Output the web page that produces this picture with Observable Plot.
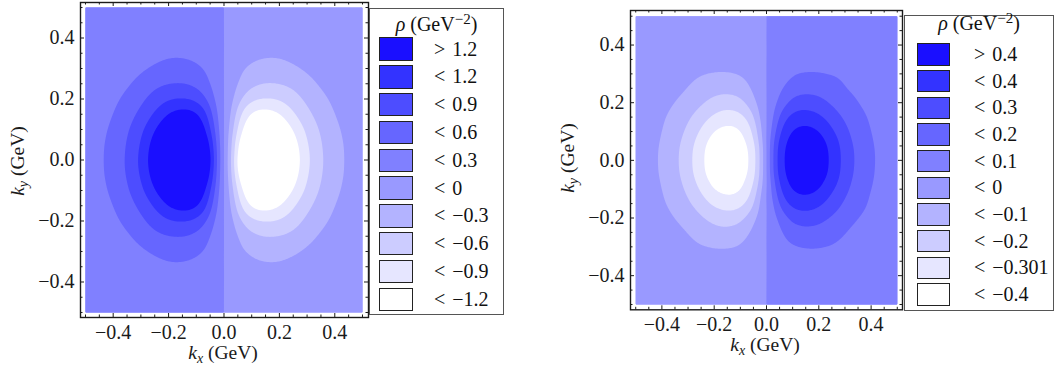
<!DOCTYPE html>
<html><head><meta charset="utf-8">
<script src="https://cdn.jsdelivr.net/npm/d3@7"></script>
<script src="https://cdn.jsdelivr.net/npm/@observablehq/plot@0.6"></script>
<style>
html,body{margin:0;padding:0;background:#fff;overflow:hidden;}
#root{position:relative;width:1054px;height:369px;overflow:hidden;font-family:'Liberation Serif','Times New Roman',Tinos,'DejaVu Serif',serif;color:#111;}
#root svg{position:absolute;top:0;}
.legend{position:absolute;border:1px solid #555;box-sizing:border-box;background:#fff;}
.sw{position:absolute;box-sizing:border-box;border:1.5px solid #222;}
.lab{position:absolute;font-size:20px;line-height:20px;white-space:nowrap;word-spacing:2px;}
.ttl{position:absolute;text-align:center;font-size:20px;line-height:20px;white-space:nowrap;transform:translateX(-50%);}
.ttl sup{font-size:0.75em;line-height:0;vertical-align:0.5em;}
</style></head><body><div id="root"></div>
<script>
// grid coordinates (GeV)
const kxValues = [-0.5,-0.45,-0.4,-0.35,-0.3,-0.25,-0.2,-0.15,-0.1,-0.05,-0.03,-0.01,0.01,0.03,0.05,0.1,0.15,0.2,0.25,0.3,0.35,0.4,0.45,0.5];
const kyValues = [-0.5,-0.45,-0.4,-0.35,-0.3,-0.25,-0.2,-0.15,-0.1,-0.05,0,0.05,0.1,0.15,0.2,0.25,0.3,0.35,0.4,0.45,0.5];

// left panel: rho (GeV^-2), one row per ky value (ascending), columns follow kxValues
const rhoLeft = [
[0.03,0.04,0.05,0.065,0.08,0.09,0.1,0.1,0.09,0.06,0.04,0.015,-0.015,-0.04,-0.06,-0.09,-0.1,-0.1,-0.09,-0.08,-0.065,-0.05,-0.04,-0.03],
[0.04,0.05,0.065,0.085,0.1,0.12,0.13,0.13,0.12,0.08,0.05,0.02,-0.02,-0.05,-0.08,-0.12,-0.13,-0.13,-0.12,-0.1,-0.085,-0.065,-0.05,-0.04],
[0.05,0.065,0.085,0.11,0.14,0.165,0.18,0.18,0.16,0.11,0.07,0.025,-0.025,-0.07,-0.11,-0.16,-0.18,-0.18,-0.165,-0.14,-0.11,-0.085,-0.065,-0.05],
[0.06,0.08,0.11,0.15,0.2,0.245,0.27,0.27,0.24,0.16,0.09,0.03,-0.03,-0.09,-0.16,-0.24,-0.27,-0.27,-0.245,-0.2,-0.15,-0.11,-0.08,-0.06],
[0.07,0.1,0.14,0.19,0.26,0.32,0.37,0.375,0.34,0.23,0.12,0.04,-0.04,-0.12,-0.23,-0.34,-0.375,-0.37,-0.32,-0.26,-0.19,-0.14,-0.1,-0.07],
[0.08,0.12,0.18,0.26,0.39,0.53,0.6,0.61,0.53,0.3,0.15,0.05,-0.05,-0.15,-0.3,-0.53,-0.61,-0.6,-0.53,-0.39,-0.26,-0.18,-0.12,-0.08],
[0.1,0.15,0.24,0.37,0.53,0.74,0.88,0.91,0.83,0.5,0.19,0.05,-0.05,-0.19,-0.5,-0.83,-0.91,-0.88,-0.74,-0.53,-0.37,-0.24,-0.15,-0.1],
[0.12,0.18,0.295,0.475,0.675,0.94,1.25,1.4,1.3,0.8,0.335,0.03,-0.03,-0.335,-0.8,-1.3,-1.4,-1.25,-0.94,-0.675,-0.475,-0.295,-0.18,-0.12],
[0.14,0.21,0.365,0.56,0.825,1.21,1.5,1.62,1.58,1.05,0.47,0.045,-0.045,-0.47,-1.05,-1.58,-1.62,-1.5,-1.21,-0.825,-0.56,-0.365,-0.21,-0.14],
[0.16,0.235,0.41,0.61,0.92,1.39,1.6,1.72,1.7,1.4,0.57,0.08,-0.08,-0.57,-1.4,-1.7,-1.72,-1.6,-1.39,-0.92,-0.61,-0.41,-0.235,-0.16],
[0.17,0.24,0.42,0.63,0.97,1.45,1.65,1.78,1.75,1.6,0.6,0.1,-0.1,-0.6,-1.6,-1.75,-1.78,-1.65,-1.45,-0.97,-0.63,-0.42,-0.24,-0.17],
[0.16,0.235,0.41,0.61,0.92,1.39,1.6,1.72,1.7,1.4,0.57,0.08,-0.08,-0.57,-1.4,-1.7,-1.72,-1.6,-1.39,-0.92,-0.61,-0.41,-0.235,-0.16],
[0.14,0.21,0.365,0.56,0.825,1.21,1.5,1.62,1.58,1.05,0.47,0.045,-0.045,-0.47,-1.05,-1.58,-1.62,-1.5,-1.21,-0.825,-0.56,-0.365,-0.21,-0.14],
[0.12,0.18,0.295,0.475,0.675,0.94,1.25,1.4,1.3,0.8,0.335,0.03,-0.03,-0.335,-0.8,-1.3,-1.4,-1.25,-0.94,-0.675,-0.475,-0.295,-0.18,-0.12],
[0.1,0.15,0.24,0.37,0.53,0.74,0.88,0.91,0.83,0.5,0.19,0.05,-0.05,-0.19,-0.5,-0.83,-0.91,-0.88,-0.74,-0.53,-0.37,-0.24,-0.15,-0.1],
[0.08,0.12,0.18,0.26,0.39,0.53,0.6,0.61,0.53,0.3,0.15,0.05,-0.05,-0.15,-0.3,-0.53,-0.61,-0.6,-0.53,-0.39,-0.26,-0.18,-0.12,-0.08],
[0.07,0.1,0.14,0.19,0.26,0.32,0.37,0.375,0.34,0.23,0.12,0.04,-0.04,-0.12,-0.23,-0.34,-0.375,-0.37,-0.32,-0.26,-0.19,-0.14,-0.1,-0.07],
[0.06,0.08,0.11,0.15,0.2,0.245,0.27,0.27,0.24,0.16,0.09,0.03,-0.03,-0.09,-0.16,-0.24,-0.27,-0.27,-0.245,-0.2,-0.15,-0.11,-0.08,-0.06],
[0.05,0.065,0.085,0.11,0.14,0.165,0.18,0.18,0.16,0.11,0.07,0.025,-0.025,-0.07,-0.11,-0.16,-0.18,-0.18,-0.165,-0.14,-0.11,-0.085,-0.065,-0.05],
[0.04,0.05,0.065,0.085,0.1,0.12,0.13,0.13,0.12,0.08,0.05,0.02,-0.02,-0.05,-0.08,-0.12,-0.13,-0.13,-0.12,-0.1,-0.085,-0.065,-0.05,-0.04],
[0.03,0.04,0.05,0.065,0.08,0.09,0.1,0.1,0.09,0.06,0.04,0.015,-0.015,-0.04,-0.06,-0.09,-0.1,-0.1,-0.09,-0.08,-0.065,-0.05,-0.04,-0.03]
];

// right panel
const rhoRight = [
[-0.012,-0.015,-0.019,-0.024,-0.028,-0.031,-0.032,-0.032,-0.029,-0.019,-0.012,-0.005,0.005,0.012,0.019,0.029,0.032,0.032,0.031,0.028,0.024,0.019,0.015,0.012],
[-0.014,-0.018,-0.024,-0.03,-0.035,-0.039,-0.041,-0.041,-0.037,-0.025,-0.016,-0.006,0.006,0.016,0.025,0.037,0.041,0.041,0.039,0.035,0.03,0.024,0.018,0.014],
[-0.017,-0.022,-0.029,-0.037,-0.045,-0.05,-0.053,-0.053,-0.048,-0.032,-0.02,-0.008,0.008,0.02,0.032,0.048,0.053,0.053,0.05,0.045,0.037,0.029,0.022,0.017],
[-0.02,-0.027,-0.036,-0.047,-0.058,-0.068,-0.073,-0.073,-0.066,-0.043,-0.027,-0.01,0.01,0.027,0.043,0.066,0.073,0.073,0.068,0.058,0.047,0.036,0.027,0.02],
[-0.025,-0.034,-0.047,-0.064,-0.08,-0.093,-0.1,-0.1,-0.092,-0.058,-0.035,-0.012,0.012,0.035,0.058,0.092,0.1,0.1,0.093,0.08,0.064,0.047,0.034,0.025],
[-0.03,-0.04,-0.055,-0.075,-0.098,-0.145,-0.165,-0.17,-0.15,-0.079,-0.045,-0.015,0.015,0.045,0.079,0.15,0.17,0.165,0.145,0.098,0.075,0.055,0.04,0.03],
[-0.035,-0.048,-0.07,-0.1,-0.14,-0.185,-0.235,-0.255,-0.235,-0.125,-0.07,-0.015,0.015,0.07,0.125,0.235,0.255,0.235,0.185,0.14,0.1,0.07,0.048,0.035],
[-0.04,-0.055,-0.088,-0.13,-0.185,-0.255,-0.325,-0.36,-0.345,-0.235,-0.1,-0.01,0.01,0.1,0.235,0.345,0.36,0.325,0.255,0.185,0.13,0.088,0.055,0.04],
[-0.044,-0.062,-0.097,-0.154,-0.22,-0.32,-0.415,-0.44,-0.42,-0.315,-0.17,-0.01,0.01,0.17,0.315,0.42,0.44,0.415,0.32,0.22,0.154,0.097,0.062,0.044],
[-0.048,-0.068,-0.109,-0.171,-0.253,-0.377,-0.46,-0.475,-0.45,-0.37,-0.28,-0.01,0.01,0.28,0.37,0.45,0.475,0.46,0.377,0.253,0.171,0.109,0.068,0.048],
[-0.05,-0.07,-0.1125,-0.176,-0.262,-0.385,-0.47,-0.49,-0.46,-0.38,-0.292,-0.01,0.01,0.292,0.38,0.46,0.49,0.47,0.385,0.262,0.176,0.1125,0.07,0.05],
[-0.048,-0.068,-0.109,-0.171,-0.253,-0.377,-0.46,-0.475,-0.45,-0.37,-0.28,-0.01,0.01,0.28,0.37,0.45,0.475,0.46,0.377,0.253,0.171,0.109,0.068,0.048],
[-0.044,-0.062,-0.097,-0.154,-0.22,-0.32,-0.415,-0.44,-0.42,-0.315,-0.17,-0.01,0.01,0.17,0.315,0.42,0.44,0.415,0.32,0.22,0.154,0.097,0.062,0.044],
[-0.04,-0.055,-0.088,-0.13,-0.185,-0.255,-0.325,-0.36,-0.345,-0.235,-0.1,-0.01,0.01,0.1,0.235,0.345,0.36,0.325,0.255,0.185,0.13,0.088,0.055,0.04],
[-0.035,-0.048,-0.07,-0.1,-0.14,-0.185,-0.235,-0.255,-0.235,-0.125,-0.07,-0.015,0.015,0.07,0.125,0.235,0.255,0.235,0.185,0.14,0.1,0.07,0.048,0.035],
[-0.03,-0.04,-0.055,-0.075,-0.098,-0.145,-0.165,-0.17,-0.15,-0.079,-0.045,-0.015,0.015,0.045,0.079,0.15,0.17,0.165,0.145,0.098,0.075,0.055,0.04,0.03],
[-0.025,-0.034,-0.047,-0.064,-0.08,-0.093,-0.1,-0.1,-0.092,-0.058,-0.035,-0.012,0.012,0.035,0.058,0.092,0.1,0.1,0.093,0.08,0.064,0.047,0.034,0.025],
[-0.02,-0.027,-0.036,-0.047,-0.058,-0.068,-0.073,-0.073,-0.066,-0.043,-0.027,-0.01,0.01,0.027,0.043,0.066,0.073,0.073,0.068,0.058,0.047,0.036,0.027,0.02],
[-0.017,-0.022,-0.029,-0.037,-0.045,-0.05,-0.053,-0.053,-0.048,-0.032,-0.02,-0.008,0.008,0.02,0.032,0.048,0.053,0.053,0.05,0.045,0.037,0.029,0.022,0.017],
[-0.014,-0.018,-0.024,-0.03,-0.035,-0.039,-0.041,-0.041,-0.037,-0.025,-0.016,-0.006,0.006,0.016,0.025,0.037,0.041,0.041,0.039,0.035,0.03,0.024,0.018,0.014],
[-0.012,-0.015,-0.019,-0.024,-0.028,-0.031,-0.032,-0.032,-0.029,-0.019,-0.012,-0.005,0.005,0.012,0.019,0.029,0.032,0.032,0.031,0.028,0.024,0.019,0.015,0.012]
];

const thresholdsLeft = [-1.2,-0.9,-0.6,-0.3,0,0.3,0.6,0.9,1.2];
const thresholdsRight = [-0.4,-0.301,-0.2,-0.1,0,0.1,0.2,0.3,0.4];
// legend order: darkest (top) to white (bottom)
const legendColors = ["#1a0fff","#3333ff","#4d4dff","#6666ff","#8080ff","#9999ff","#b3b3ff","#ccccff","#e6e6ff","#ffffff"];
const legendLabelsLeft = ["> 1.2","< 1.2","< 0.9","< 0.6","< 0.3","< 0","< \u22120.3","< \u22120.6","< \u22120.9","< \u22121.2"];
const legendLabelsRight = ["> 0.4","< 0.4","< 0.3","< 0.2","< 0.1","< 0","< \u22120.1","< \u22120.2","< \u22120.301","< \u22120.4"];
const majorTicks = [-0.4,-0.2,0,0.2,0.4];
const minorTicks = [-0.5,-0.45,-0.35,-0.3,-0.25,-0.15,-0.1,-0.05,0.05,0.1,0.15,0.25,0.3,0.35,0.45,0.5];

const root = document.getElementById("root");
const FONT = "'Liberation Serif','Times New Roman',Tinos,'DejaVu Serif',serif";

function gridTable(rows) {
  const out = [];
  kyValues.forEach((ky, i) => kxValues.forEach((kx, j) => out.push({kx, ky, rho: rows[i][j]})));
  return out;
}

function panel(o) {
  const innerW = o.width - o.ml - o.mr;
  const innerH = o.height - o.mt - o.mb;
  const ink = "#1a1a1a";
  const svg = Plot.plot({
    width: o.width, height: o.height,
    marginLeft: o.ml, marginRight: o.mr, marginTop: o.mt, marginBottom: o.mb,
    x: {domain: o.xd},
    y: {domain: o.yd},
    color: {type: "threshold", domain: o.thresholds, range: legendColors.slice().reverse()},
    style: {fontFamily: FONT, fontSize: "20px", color: ink, background: "transparent"},
    marks: [
      Plot.contour(gridTable(o.rows), {
        x: "kx", y: "ky", value: "rho", fill: "value",
        thresholds: o.thresholds, interpolate: "barycentric", blur: 5,
        x1: -0.5, x2: 0.5, y1: -0.5, y2: 0.5, pixelSize: 1, stroke: "none"
      }),
      Plot.tickX(majorTicks, {x: d => d, insetTop: innerH - 4, stroke: ink}),
      Plot.tickX(majorTicks, {x: d => d, insetBottom: innerH - 4, stroke: ink}),
      Plot.tickX(minorTicks, {x: d => d, insetTop: innerH - 2.5, stroke: ink}),
      Plot.tickX(minorTicks, {x: d => d, insetBottom: innerH - 2.5, stroke: ink}),
      Plot.tickY(majorTicks, {y: d => d, insetRight: innerW - 4, stroke: ink}),
      Plot.tickY(majorTicks, {y: d => d, insetLeft: innerW - 4, stroke: ink}),
      Plot.tickY(minorTicks, {y: d => d, insetRight: innerW - 2.5, stroke: ink}),
      Plot.tickY(minorTicks, {y: d => d, insetLeft: innerW - 2.5, stroke: ink}),
      Plot.frame({stroke: ink, strokeWidth: 1.4}),
      Plot.axisX(majorTicks, {tickSize: 0, tickPadding: 7, tickFormat: d3.format(".1f"), label: null, fontSize: 20, fontFamily: FONT}),
      Plot.axisY(majorTicks, {tickSize: 0, tickPadding: 6, tickFormat: d3.format(".1f"), label: null, fontSize: 20, fontFamily: FONT})
    ]
  });
  svg.style.left = o.left + "px";
  svg.style.top = "0px";
  svg.style.fontFamily = FONT;
  root.appendChild(svg);
  const s = d3.select(svg);
  // x axis title: k_x (GeV)
  const tx = s.append("text").attr("x", o.xLabel[0]).attr("y", o.xLabel[1])
    .attr("text-anchor", "middle").attr("font-size", 19.5).style("font-family", FONT).attr("fill", ink);
  tx.append("tspan").attr("font-style", "italic").text("k");
  tx.append("tspan").attr("font-style", "italic").attr("font-size", 14).attr("dy", 4).text("x");
  tx.append("tspan").attr("dy", -4).text(" (GeV)");
  // y axis title: k_y (GeV)
  const ty = s.append("text").attr("transform", "rotate(-90)")
    .attr("x", -o.yLabel[1]).attr("y", o.yLabel[0])
    .attr("text-anchor", "middle").attr("font-size", 19.5).style("font-family", FONT).attr("fill", ink);
  ty.append("tspan").attr("font-style", "italic").text("k");
  ty.append("tspan").attr("font-style", "italic").attr("font-size", 14).attr("dy", 4).text("y");
  ty.append("tspan").attr("dy", -4).text(" (GeV)");
}

function legend(o) {
  const box = document.createElement("div");
  box.className = "legend";
  Object.assign(box.style, {left: o.left + "px", top: o.top + "px", width: o.width + "px", height: o.height + "px"});
  root.appendChild(box);
  const t = document.createElement("div");
  t.className = "ttl";
  t.innerHTML = '<i>\u03c1</i> (GeV<sup>\u22122</sup>)';
  Object.assign(t.style, {left: (o.left + o.width / 2) + "px", top: (o.titleBase - 16.8) + "px", fontFamily: FONT});
  root.appendChild(t);
  o.labels.forEach((lab, i) => {
    const top = o.swTop + i * o.pitch;
    const sw = document.createElement("div");
    sw.className = "sw";
    Object.assign(sw.style, {left: o.swLeft + "px", top: top + "px", width: o.swW + "px", height: o.swH + "px", background: legendColors[i]});
    root.appendChild(sw);
    const l = document.createElement("div");
    l.className = "lab";
    l.textContent = lab;
    Object.assign(l.style, {left: o.labLeft + "px", top: (top + o.swH / 2 - 10.5) + "px", fontFamily: FONT});
    root.appendChild(l);
  });
}

panel({rows: rhoLeft, thresholds: thresholdsLeft, left: 0, width: 370, height: 369,
  ml: 80, mr: 2, mt: 2, mb: 52, xd: [-0.518, 0.5217], yd: [-0.5164, 0.5164],
  xLabel: [223, 358.5], yLabel: [24, 161]});
panel({rows: rhoRight, thresholds: thresholdsRight, left: 550, width: 354, height: 369,
  ml: 80, mr: 2, mt: 10, mb: 59.7, xd: [-0.52, 0.52], yd: [-0.5184, 0.5198],
  xLabel: [215, 351], yLabel: [24, 158]});

legend({labels: legendLabelsLeft, left: 369, top: 8, width: 135, height: 307, titleBase: 30.5,
  swLeft: 379.3, swTop: 37.3, swW: 34, swH: 23.4, pitch: 27.82, labLeft: 434});
legend({labels: legendLabelsRight, left: 904, top: 15, width: 150, height: 296, titleBase: 29.5,
  swLeft: 917.3, swTop: 43.3, swW: 33, swH: 22.4, pitch: 26.67, labLeft: 974});
</script></body></html>
